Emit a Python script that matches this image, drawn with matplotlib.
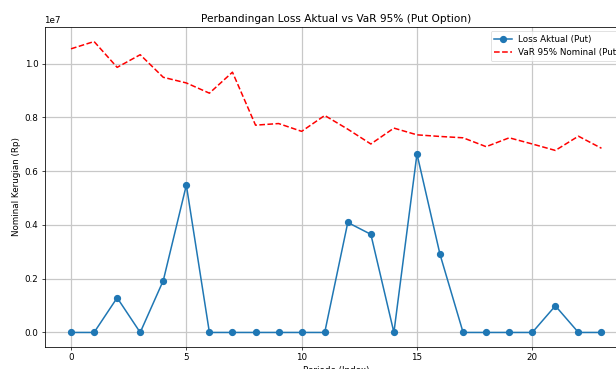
import matplotlib
matplotlib.use("Agg")
import matplotlib.pyplot as plt
import numpy as np

# Period index and series values (Rp)
periode = list(range(24))
loss_aktual = [0, 0, 1.29e6, 0, 1.93e6, 5.48e6, 0, 0, 0, 0, 0, 0,
               4.09e6, 3.65e6, 0, 6.64e6, 2.90e6, 0, 0, 0, 0, 0.99e6, 0, 0]
var_95 = [10.55e6, 10.82e6, 9.86e6, 10.33e6, 9.49e6, 9.28e6, 8.90e6, 9.68e6,
          7.71e6, 7.77e6, 7.48e6, 8.07e6, 7.56e6, 7.01e6, 7.60e6, 7.35e6,
          7.29e6, 7.24e6, 6.91e6, 7.24e6, 7.01e6, 6.77e6, 7.30e6, 6.85e6]

s = 0.63  # scale applied to default sizes
fig = plt.figure(figsize=(6.16, 3.69), dpi=100)
ax = fig.add_axes([44.5 / 616, 22 / 369, (628 - 44.5) / 616, 320 / 369])

ax.plot(periode, loss_aktual, marker="o", color="#1f77b4", lw=1.1,
        ms=4.2, label="Loss Aktual (Put)")
ax.plot(periode, var_95, "--", color="red", lw=1.1,
        label="VaR 95% Nominal (Put)")

ax.set_title("Perbandingan Loss Aktual vs VaR 95% (Put Option)", fontsize=12 * s,
             pad=6 * s)
ax.set_xlabel("Periode (Index)", fontsize=10 * s, labelpad=4 * s)
ax.set_ylabel("Nominal Kerugian (Rp)", fontsize=10 * s, labelpad=4 * s)
ax.tick_params(labelsize=10 * s, width=0.8 * s, length=3.5 * s, pad=3.5 * s)
ax.yaxis.get_offset_text().set_fontsize(10 * s)
for sp in ax.spines.values():
    sp.set_linewidth(0.9 * s)
ax.grid(True, lw=0.9, color="#c8c8c8")
leg = ax.legend(fontsize=10 * s, loc="upper right")
leg.get_frame().set_linewidth(0.8 * s)

fig.savefig("out.png", dpi=100)
